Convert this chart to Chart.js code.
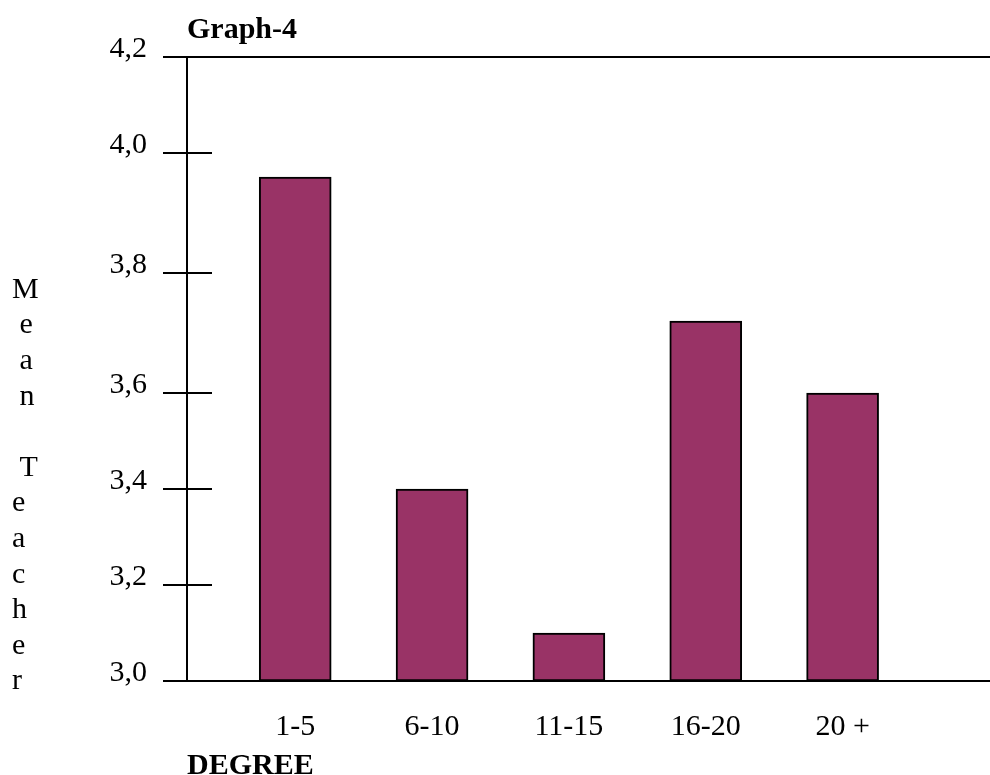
<!DOCTYPE html>
<html lang="en">
<head>
    <meta charset="UTF-8">
    <title>Graph-4</title>
    <style>
        body {
            margin: 0;
            background: #fff;
        }
        .chart-box {
            width: 990px;
            height: 775px;
        }
    </style>
</head>
<body>
    <div class="chart-box">
        <canvas id="chart1" width="990" height="775"></canvas>
    </div>
    <script src="https://cdn.jsdelivr.net/npm/chart.js@4/dist/chart.umd.min.js"></script>
    <script>
        // data
        const degree = ['1-5', '6-10', '11-15', '16-20', '20 +'];
        const meanTeacher = [3.96, 3.4, 3.1, 3.72, 3.6];
        const yTicks = [3.0, 3.2, 3.4, 3.6, 3.8, 4.0, 4.2];
        const yTitleLines = ['M', ' e', ' a', ' n', '', ' T', 'e', 'a', 'c', 'h', 'e', 'r'];

        // the original axis is not evenly spaced: relative height of each gap between ticks
        const yGapWeights = [1, 1, 1, 1.25, 1.25, 1];
        const totalWeight = yGapWeights.reduce((acc, cur) => acc + cur);

        // value -> fraction of the axis (0 = bottom)
        function yDecimal(value) {
            const v = Math.min(Math.max(value, yTicks[0]), yTicks[yTicks.length - 1]);
            let acc = 0;
            for (let i = 0; i < yGapWeights.length; i++) {
                const lo = yTicks[i];
                const hi = yTicks[i + 1];
                if (v <= hi || i === yGapWeights.length - 1) {
                    return (acc + (v - lo) / (hi - lo) * yGapWeights[i]) / totalWeight;
                }
                acc += yGapWeights[i];
            }
            return 0;
        }

        // fraction of the axis -> value
        function yValue(decimal) {
            let w = decimal * totalWeight;
            for (let i = 0; i < yGapWeights.length; i++) {
                if (w <= yGapWeights[i] || i === yGapWeights.length - 1) {
                    return yTicks[i] + w / yGapWeights[i] * (yTicks[i + 1] - yTicks[i]);
                }
                w -= yGapWeights[i];
            }
            return yTicks[0];
        }

        class PiecewiseScale extends Chart.LinearScale {
            getPixelForValue(value) {
                if (value === null || isNaN(value)) {
                    return NaN;
                }
                return this.getPixelForDecimal(yDecimal(value));
            }
            getValueForPixel(pixel) {
                return yValue(this.getDecimalForPixel(pixel));
            }
        }
        PiecewiseScale.id = 'piecewise';
        PiecewiseScale.defaults = Chart.LinearScale.defaults;
        Chart.register(PiecewiseScale);

        // tick marks also stick into the plot area, and the stacked y title
        const axisExtras = {
            id: 'axisExtras',
            afterDraw(chart) {
                const ctx = chart.ctx;
                const yScale = chart.scales.y;
                const left = chart.chartArea.left;
                ctx.save();
                ctx.strokeStyle = '#000';
                ctx.lineWidth = 2;
                yScale.ticks.forEach((t, i) => {
                    const py = Math.round(yScale.getPixelForTick(i));
                    ctx.beginPath();
                    ctx.moveTo(left, py);
                    ctx.lineTo(left + 25, py);
                    ctx.stroke();
                });
                ctx.fillStyle = '#000';
                ctx.font = '30px "Liberation Serif"';
                ctx.textAlign = 'left';
                ctx.textBaseline = 'middle';
                yTitleLines.forEach((s, i) => {
                    ctx.fillText(s, 12, 290 + i * 35.6);
                });
                ctx.restore();
            }
        };

        Chart.defaults.font.family = '"Liberation Serif", "Times New Roman", serif';
        Chart.defaults.font.size = 30;
        Chart.defaults.color = '#000';

        new Chart(chart1, {
            type: 'bar',
            data: {
                datasets: [
                    {
                        label: 'Mean Teacher',
                        data: degree.map((d, i) => ({x: i, y: meanTeacher[i]})),
                        backgroundColor: '#993366',
                        borderColor: '#000',
                        borderWidth: 2,
                        borderSkipped: false,
                        barThickness: 72
                    }
                ]
            },
            options: {
                responsive: false,
                animation: false,
                layout: {
                    padding: 0
                },
                plugins: {
                    legend: {display: false},
                    tooltip: {enabled: false},
                    title: {
                        display: true,
                        text: 'Graph-4',
                        align: 'start',
                        fullSize: false,
                        color: '#000',
                        font: {size: 30, weight: 'bold', lineHeight: 1.2},
                        padding: {top: 12, bottom: 9}
                    }
                },
                scales: {
                    x: {
                        type: 'linear',
                        offset: false,
                        min: -0.7907,
                        max: 5.0771,
                        afterBuildTicks: s => {
                            s.ticks = degree.map((d, i) => ({value: i}));
                        },
                        afterFit: s => {
                            s.height = 94;
                        },
                        ticks: {
                            autoSkip: false,
                            maxRotation: 0,
                            padding: 28,
                            callback: v => degree[v]
                        },
                        grid: {display: false, drawTicks: false, offset: false},
                        border: {display: true, color: '#000', width: 2},
                        title: {
                            display: true,
                            text: 'DEGREE',
                            align: 'start',
                            font: {size: 30, weight: 'bold', lineHeight: 0.6},
                            padding: 0
                        }
                    },
                    y: {
                        type: 'piecewise',
                        min: yTicks[0],
                        max: yTicks[yTicks.length - 1],
                        afterBuildTicks: s => {
                            s.ticks = yTicks.map(v => ({value: v}));
                        },
                        afterFit: s => {
                            s.width = 187;
                        },
                        ticks: {
                            padding: 16,
                            labelOffset: -8,
                            callback: v => v.toFixed(1).replace('.', ',')
                        },
                        grid: {
                            drawOnChartArea: true,
                            color: c => (c.tick && c.tick.value === yTicks[yTicks.length - 1]) ? '#000' : 'rgba(0,0,0,0)',
                            lineWidth: 2,
                            tickColor: '#000',
                            tickWidth: 2,
                            tickLength: 24
                        },
                        border: {display: true, color: '#000', width: 2}
                    }
                }
            },
            plugins: [axisExtras]
        });
    </script>
</body>
</html>
